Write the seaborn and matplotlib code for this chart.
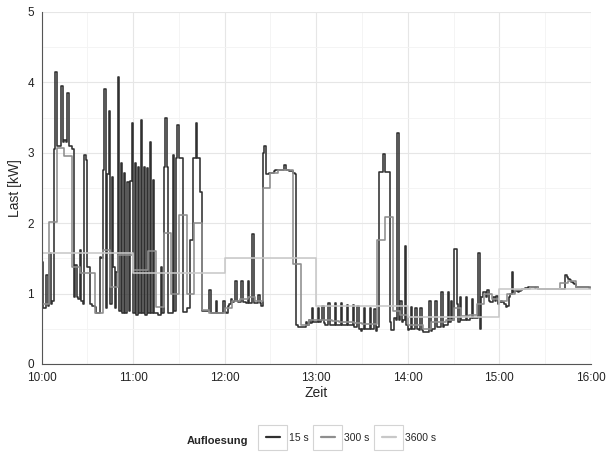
import numpy as np
import pandas as pd
import matplotlib
matplotlib.use("Agg")
import matplotlib.pyplot as plt
from matplotlib.lines import Line2D
from matplotlib.patches import Rectangle
import seaborn as sns

# Last in kW, 15 s Aufloesung, je Minute
last_15s_h10 = [1.45, 0.80, 0.80, 1.26, 0.82, 1.57, 0.85, 0.90, 3.05, 4.15,
                3.10, 3.10, 3.10, 3.95, 3.15, 3.18, 3.15, 3.85, 3.10, 3.10,
                3.05, 0.95, 1.40, 0.95, 0.93, 1.62, 0.90, 0.85, 2.97, 2.90,
                1.38, 1.38, 0.85, 0.83, 0.82, 0.81, 0.73, 0.72, 1.52, 1.50,
                2.75, 3.90, 0.80, 2.70, 3.59, 0.85, 2.65, 1.38, 0.80, 1.30,
                4.07, 0.75, 2.86, 0.72, 2.71, 0.72, 2.59, 0.75, 2.60, 3.42]
last_15s_h11 = [0.72, 2.86, 0.70, 2.80, 0.72, 3.47, 0.72, 2.80, 0.70, 2.78,
                0.72, 3.16, 0.72, 2.62, 0.72, 0.72, 0.70, 0.70, 1.38, 0.72,
                2.80, 3.50, 2.80, 0.72, 0.72, 0.72, 2.97, 0.75, 2.92, 3.40,
                2.92, 2.92, 2.92, 0.74, 0.74, 0.80, 0.80, 1.76, 1.76, 2.92,
                2.92, 3.42, 2.92, 2.92, 2.45, 0.75, 0.75, 0.75, 0.75, 0.75,
                1.05, 0.72, 0.72, 0.72, 0.90, 0.72, 0.72, 0.72, 0.72, 0.90]
last_15s_h12 = [0.74, 0.72, 0.82, 0.85, 0.92, 0.88, 0.90, 1.18, 0.90, 0.88,
                0.88, 1.18, 0.88, 0.88, 0.87, 1.18, 0.87, 0.87, 1.85, 0.87,
                0.87, 0.86, 0.98, 0.86, 0.83, 3.00, 3.10, 2.70, 2.70, 2.71,
                2.72, 2.72, 2.74, 2.75, 2.75, 2.75, 2.76, 2.76, 2.76, 2.83,
                2.76, 2.75, 2.74, 2.74, 2.74, 2.72, 2.70, 0.55, 0.52, 0.52,
                0.52, 0.52, 0.52, 0.60, 0.55, 0.62, 0.58, 0.79, 0.60, 0.60]
last_15s_h13 = [0.60, 0.79, 0.60, 0.62, 0.83, 0.58, 0.56, 0.55, 0.86, 0.55,
                0.55, 0.55, 0.87, 0.55, 0.55, 0.55, 0.86, 0.55, 0.55, 0.55,
                0.84, 0.55, 0.55, 0.55, 0.84, 0.53, 0.53, 0.82, 0.50, 0.47,
                0.50, 0.80, 0.50, 0.50, 0.50, 0.80, 0.50, 0.50, 0.78, 0.47,
                0.52, 2.73, 2.73, 2.73, 2.99, 2.73, 2.73, 2.73, 0.60, 0.48,
                0.48, 0.65, 0.62, 3.28, 0.62, 0.90, 0.60, 0.62, 1.68, 0.55]
last_15s_h14 = [0.48, 0.50, 0.81, 0.50, 0.50, 0.79, 0.50, 0.48, 0.79, 0.48,
                0.45, 0.45, 0.45, 0.46, 0.90, 0.47, 0.50, 0.50, 0.90, 0.52,
                0.52, 0.53, 1.02, 0.53, 0.55, 0.55, 1.02, 0.60, 0.90, 0.62,
                1.64, 1.64, 0.85, 0.60, 0.95, 0.62, 0.62, 0.62, 0.95, 0.63,
                0.63, 0.65, 0.93, 0.65, 0.65, 0.66, 1.57, 0.50, 0.95, 1.02,
                1.02, 0.95, 1.05, 0.90, 0.88, 0.88, 0.95, 0.90, 0.97, 0.85]
last_15s_h15 = [0.88, 0.90, 0.88, 0.85, 0.81, 0.82, 0.95, 1.00, 1.31, 1.02,
                1.03, 1.04, 1.02, 1.04, 1.05, 1.06, 1.06, 1.08, 1.08, 1.09,
                1.10, 1.09, 1.09, 1.08, 1.09, 1.07, 1.07, 1.06, 1.06, 1.06,
                1.06, 1.06, 1.06, 1.06, 1.06, 1.06, 1.07, 1.07, 1.06, 1.07,
                1.07, 1.07, 1.07, 1.26, 1.24, 1.21, 1.20, 1.16, 1.15, 1.14,
                1.10, 1.10, 1.10, 1.10, 1.10, 1.10, 1.09, 1.09, 1.09, 1.08]

# 5-Minuten-Mittelwerte
last_300s = [0.85, 2.02, 3.07, 2.95, 1.38, 1.29, 1.29, 0.73, 1.62, 1.09, 1.55, 1.55,
             1.33, 1.33, 1.61, 0.81, 1.86, 1.00, 2.11, 1.00, 2.00, 0.76, 0.72, 0.72,
             0.80, 0.90, 0.92, 0.95, 0.90, 2.50, 2.72, 2.76, 2.75, 1.42, 0.55, 0.62,
             0.62, 0.62, 0.61, 0.60, 0.60, 0.58, 0.57, 0.57, 1.76, 2.09, 0.75, 0.70,
             0.55, 0.55, 0.50, 0.60, 0.60, 0.62, 0.80, 0.68, 0.70, 0.85, 1.00, 0.92,
             0.90, 1.00, 1.05, 1.07, 1.09, 1.07, 1.06, 1.07, 1.15, 1.18, 1.10, 1.09]

# Stundenmittelwerte
last_3600s = [1.57, 1.29, 1.50, 0.83, 0.67, 1.06]

hour_ticks = [10, 11, 12, 13, 14, 15, 16]
hour_labels = ["10:00", "11:00", "12:00", "13:00", "14:00", "15:00", "16:00"]
aufl_labels = ["15 s", "300 s", "3600 s"]
aufl_colors = ["#303030", "#8e8e8e", "#c8c8c8"]

last_15s = (last_15s_h10 + last_15s_h11 + last_15s_h12
            + last_15s_h13 + last_15s_h14 + last_15s_h15)


def make_series(values, step_min, label):
    # letzter Wert bis 16:00 verlaengern fuer die Treppe
    vals = list(values) + [values[-1]]
    t = 10 + np.arange(len(vals)) * step_min / 60.0
    return pd.DataFrame({"Zeit": t, "Last": vals, "Aufloesung": label})


df = pd.concat([make_series(last_15s, 1, "15 s"),
                make_series(last_300s, 5, "300 s"),
                make_series(last_3600s, 60, "3600 s")], ignore_index=True)

sns.set_theme(style="white")
plt.rcParams["font.family"] = ["Liberation Sans", "DejaVu Sans"]

fig = plt.figure(figsize=(6.06, 4.53), dpi=100)
ax = fig.add_axes([41.5 / 606, 1 - 364 / 453, (591 - 41.5) / 606, (364 - 12) / 453])

sns.lineplot(data=df, x="Zeit", y="Last", hue="Aufloesung", hue_order=aufl_labels,
             palette=dict(zip(aufl_labels, aufl_colors)), drawstyle="steps-post",
             estimator=None, errorbar=None, linewidth=1.15, legend=False, ax=ax)

ax.set_xlim(10, 16)
ax.set_ylim(0, 5)
ax.set_xticks(hour_ticks)
ax.set_xticklabels(hour_labels)
ax.set_yticks([0, 1, 2, 3, 4, 5])
ax.set_xticks(np.arange(10.5, 16, 1), minor=True)
ax.set_yticks(np.arange(0.5, 5, 1), minor=True)
ax.grid(which="major", color="#e6e6e6", linewidth=0.8)
ax.grid(which="minor", color="#f3f3f3", linewidth=0.6)
ax.set_axisbelow(True)
for s in ["top", "right"]:
    ax.spines[s].set_visible(False)
for s in ["left", "bottom"]:
    ax.spines[s].set_color("#555555")
    ax.spines[s].set_linewidth(0.8)
ax.tick_params(which="major", direction="out", length=3, width=0.8, color="#555555",
               labelsize=8.5, labelcolor="#222222", pad=2.5)
ax.tick_params(which="minor", length=0)
ax.set_xlabel("Zeit", fontsize=10, labelpad=2)
ax.set_ylabel("Last [kW]", fontsize=10, labelpad=4)

# Legende unten
handles = [Line2D([], [], color=c, linewidth=1.6) for c in aufl_colors]
leg = fig.legend(handles, aufl_labels, loc="center", bbox_to_anchor=(351 / 606, 1 - 438 / 453),
                 ncol=3, frameon=False, fontsize=7.5, handlelength=1.3,
                 handletextpad=0.9, columnspacing=1.2)
fig.text(217 / 606, 1 - 441 / 453, "Aufloesung", fontsize=8, fontweight="bold",
         ha="center", va="center")

fig.canvas.draw()
renderer = fig.canvas.get_renderer()
W, H = fig.bbox.width, fig.bbox.height
for h in leg.legend_handles:
    bb = h.get_window_extent(renderer)
    cx, cy = (bb.x0 + bb.x1) / 2, (bb.y0 + bb.y1) / 2
    fig.add_artist(Rectangle(((cx - 14.5) / W, (cy - 12.5) / H), 29 / W, 25 / H,
                             transform=fig.transFigure, fill=False,
                             edgecolor="#d4d4d4", linewidth=0.8))

fig.savefig("out.png", dpi=100)
